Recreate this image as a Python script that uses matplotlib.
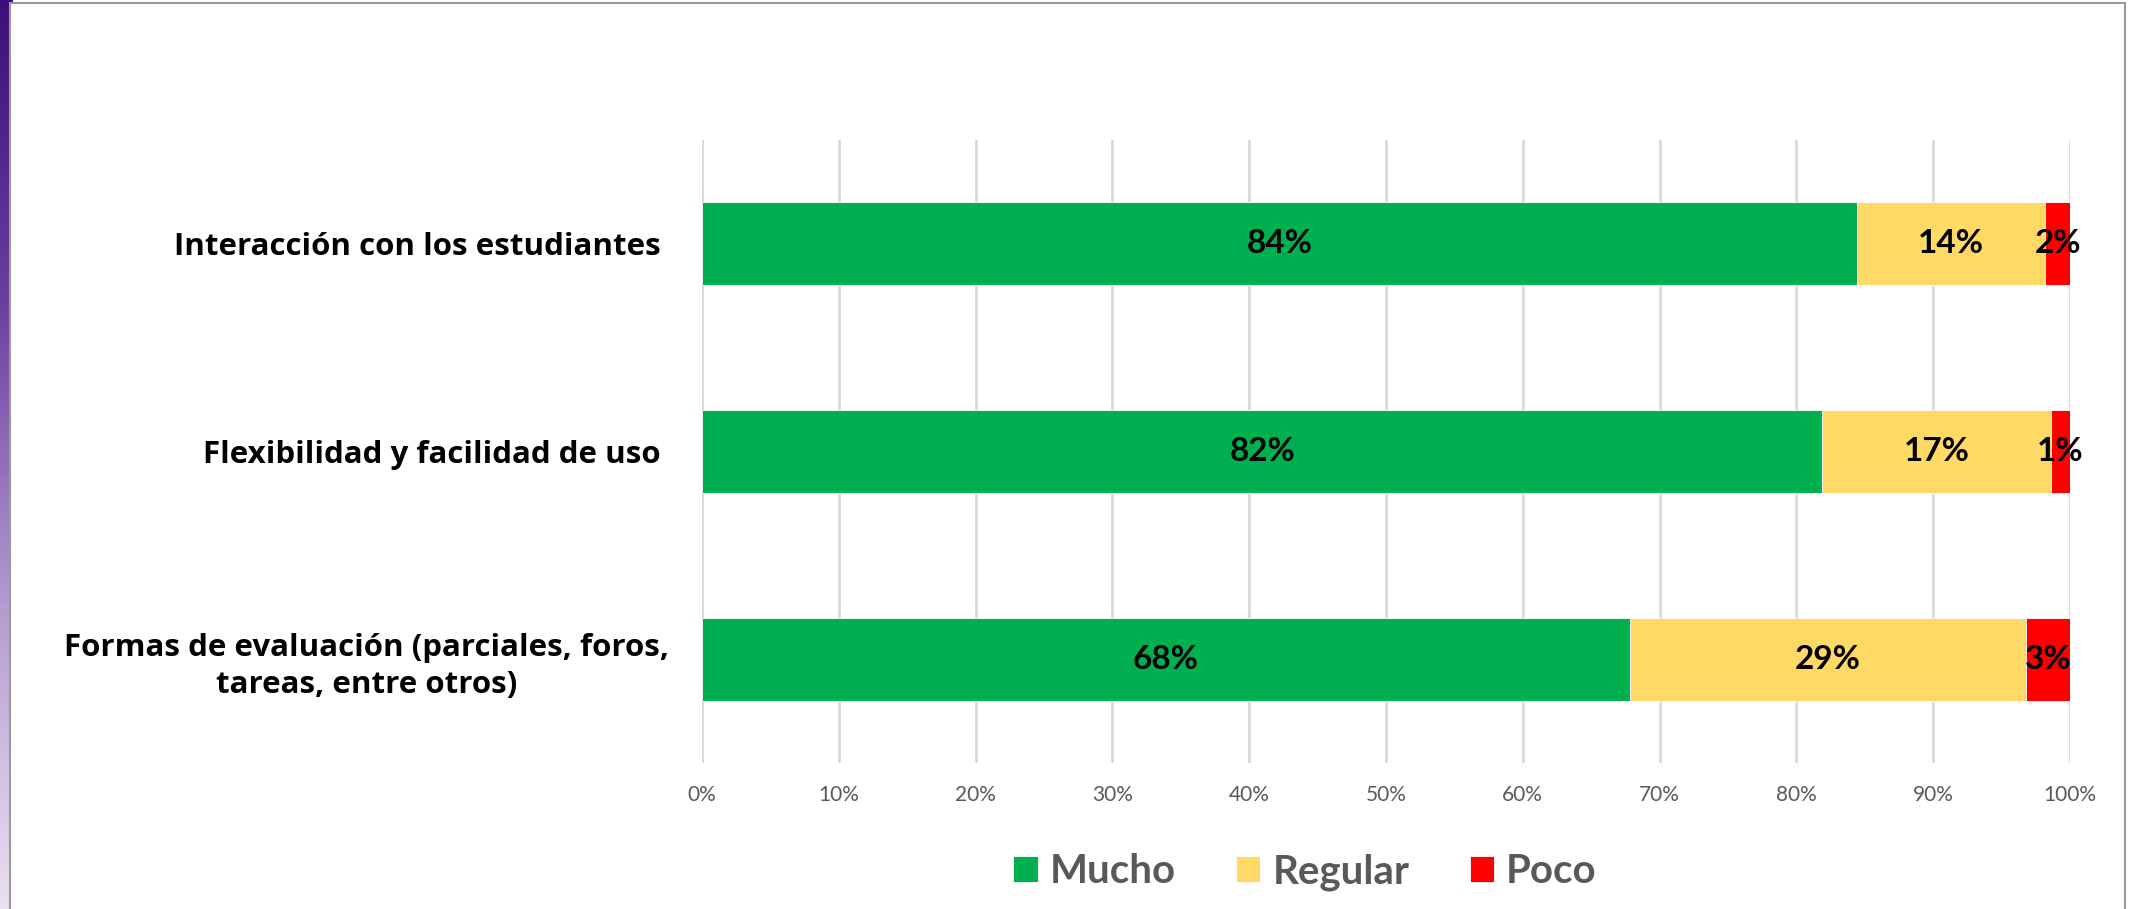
import numpy as np
import matplotlib
matplotlib.use('Agg')
import matplotlib.pyplot as plt
from matplotlib.patches import Rectangle

# Data (percentages)
categories = ['Interacción con los estudiantes ',
              'Flexibilidad y facilidad de uso ',
              'Formas de evaluación (parciales, foros,\ntareas, entre otros)']
mucho = [84.4, 81.9, 67.8]
regular = [13.8, 16.7, 29.0]
poco = [1.8, 1.4, 3.2]
series_names = ['Mucho', 'Regular', 'Poco']
series_colors = ['#00B050', '#FFD966', '#FF0000']
xticks = np.arange(0, 101, 10)

W, H = 2131, 909
fig = plt.figure(figsize=(W / 100, H / 100), dpi=100)
fig.patch.set_facecolor('white')

# slide background peeking out on the left (purple gradient)
bg = fig.add_axes([0, 0, 12 / W, 1])
grad = np.linspace(0, 1, 256).reshape(-1, 1)
cmap = matplotlib.colors.LinearSegmentedColormap.from_list(
    'bg', ['#3d0f7a', '#6a3fa0', '#b49bd0', '#e9e1f2'])
bg.imshow(grad, aspect='auto', cmap=cmap, extent=[0, 1, 0, 1])
bg.axis('off')

# white chart frame
fig.patches.append(Rectangle((10 / W, -0.01), 2115 / W, 1 - 3 / H + 0.01,
                             transform=fig.transFigure, facecolor='white',
                             edgecolor='#9a9a9a', linewidth=1.5, zorder=1))

ax = fig.add_axes([702 / W, 1 - 763 / H, (2070 - 702) / W, (763 - 140) / H])
ax.set_zorder(2)
ax.patch.set_alpha(0)

y = np.arange(len(categories))
left = np.zeros(len(categories))
for vals, name, col in zip([mucho, regular, poco], series_names, series_colors):
    bars = ax.barh(y, vals, left=left, height=0.4, color=col, label=name,
                   edgecolor='white', linewidth=0.6, zorder=3)
    for b, v in zip(bars, vals):
        ax.text(b.get_x() + b.get_width() / 2, b.get_y() + b.get_height() / 2,
                f'{v:.0f}%', ha='center', va='center', fontsize=24,
                fontweight='bold', family='Lato', color='black', zorder=4)
    left += np.array(vals)

ax.set_xlim(0, 100)
ax.set_ylim(2.5, -0.5)
ax.set_xticks(xticks)
ax.set_xticklabels([f'{t}%' for t in xticks], fontsize=15, family='Lato', color='#595959')
ax.set_yticks(y)
ax.set_yticklabels(categories, fontsize=22.5, fontweight='bold', family='Open Sans',
                   color='black', multialignment='center', linespacing=1.3)
ax.tick_params(axis='both', length=0)
ax.tick_params(axis='x', pad=16)
ax.tick_params(axis='y', pad=24)
ax.grid(axis='x', color='#d9d9d9', linewidth=2, zorder=0)
ax.set_axisbelow(True)
for s in ax.spines.values():
    s.set_visible(False)

leg = fig.legend(loc='center', bbox_to_anchor=(1305 / W, 1 - 872 / H), ncol=3,
                 frameon=False, handlelength=0.6, handleheight=0.6,
                 handletextpad=0.3, columnspacing=1.5,
                 prop={'family': 'Lato', 'weight': 'bold', 'size': 29})
for t in leg.get_texts():
    t.set_color('#595959')

fig.savefig('out.png', dpi=100)
